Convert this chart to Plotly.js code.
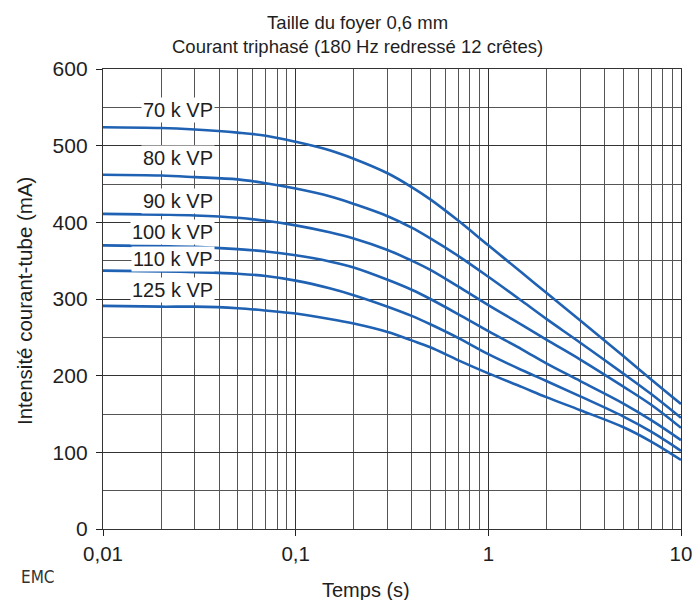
<!DOCTYPE html>
<html>
<head>
<meta charset="utf-8">
<script src="https://cdn.plot.ly/plotly-3.0.1.min.js"></script>
<style>html,body{margin:0;padding:0;background:#fff;}#chart{width:694px;height:600px;}</style>
</head>
<body>
<div id="chart"></div>
<script>
// Time (s)
var temps = [0.01, 0.02, 0.03, 0.05, 0.07, 0.1, 0.15, 0.2, 0.3, 0.4, 0.5, 0.7, 1, 1.5, 2, 3, 5, 7, 10];
// Tube current (mA) per tube voltage
var kvp70  = [524, 523, 521, 517, 513, 505, 494, 483, 464, 446, 430, 402, 370, 334, 308, 272, 226, 195, 163];
var kvp80  = [462, 461, 459, 456, 451, 444, 434, 424, 408, 393, 379, 356, 329, 297, 274, 243, 203, 176, 145];
var kvp90  = [411, 410, 409, 406, 402, 396, 387, 379, 364, 350, 338, 316, 292, 266, 247, 221, 186, 162, 132];
var kvp100 = [370, 369, 368, 365, 362, 357, 349, 341, 325, 312, 300, 280, 258, 234, 216, 193, 164, 142, 116];
var kvp110 = [337, 336, 335, 333, 330, 324, 314, 305, 290, 278, 267, 249, 228, 207, 193, 173, 147, 127, 102];
var kvp125 = [291, 290, 290, 288, 285, 281, 274, 268, 257, 246, 237, 220, 203, 185, 172, 155, 133, 114, 90];

var seriesNames = ["70 k VP", "80 k VP", "90 k VP", "100 k VP", "110 k VP", "125 k VP"];
var seriesValues = [kvp70, kvp80, kvp90, kvp100, kvp110, kvp125];
// Label anchor (time, mA) for each curve label
var labelX = 0.038;
var labelY = [547, 484, 428, 388, 352, 312];

var xTickVals = [0.01, 0.1, 1, 10];
var xTickText = ["0,01", "0,1", "1", "10"];
var yTickVals = [0, 100, 200, 300, 400, 500, 600];
var xMinorVals = [];
[0.01, 0.1, 1].forEach(function (d) {
  for (var k = 2; k <= 9; k++) xMinorVals.push(+(d * k).toPrecision(3));
});

var lineColor = "#1f61b2";
var font = "Liberation Sans, Arial, Helvetica, sans-serif";
var txt = "#1e1e1e";

// plot area in px: x 103..681, y 69..529
var L = 103, R = 681, T = 69, B = 529;
function px(xp) { return (xp - L) / (R - L); }
function py(yp) { return (B - yp) / (B - T); }

var traces = seriesValues.map(function (vals, i) {
  return {
    x: temps, y: vals, type: "scatter", mode: "lines", name: seriesNames[i],
    line: {color: lineColor, width: 2.6, shape: "spline", smoothing: 1},
    hoverinfo: "skip"
  };
});

var annotations = seriesNames.map(function (nm, i) {
  return {
    x: Math.log10(labelX), y: labelY[i], xref: "x", yref: "y",
    text: nm, showarrow: false, xanchor: "right", yanchor: "middle",
    bgcolor: "#ffffff", borderpad: 1,
    font: {family: font, size: 20, color: txt}
  };
});
annotations.push({
  xref: "paper", yref: "paper", x: px(357), y: py(34),
  text: "Taille du foyer 0,6 mm<br>Courant triphasé (180 Hz redressé 12 crêtes)",
  showarrow: false, xanchor: "center", yanchor: "middle", align: "center",
  font: {family: font, size: 18.5, color: txt}
});
annotations.push({
  xref: "paper", yref: "paper", x: px(366), y: py(590),
  text: "Temps (s)", showarrow: false, xanchor: "center", yanchor: "middle",
  font: {family: font, size: 20, color: txt}
});
annotations.push({
  xref: "paper", yref: "paper", x: px(24), y: py(301),
  text: "Intensité courant-tube (mA)", textangle: -90, showarrow: false,
  xanchor: "center", yanchor: "middle",
  font: {family: font, size: 20.5, color: txt}
});
annotations.push({
  xref: "paper", yref: "paper", x: px(38), y: py(577),
  text: "EMC", showarrow: false, xanchor: "center", yanchor: "middle",
  font: {family: "Liberation Sans Narrow, DejaVu Sans Condensed, sans-serif", size: 17, color: "#333"}
});

var layout = {
  width: 694, height: 600,
  margin: {l: L, r: 694 - R, t: T, b: 600 - B},
  paper_bgcolor: "#fff", plot_bgcolor: "#fff",
  showlegend: false,
  font: {family: font, size: 20, color: txt},
  xaxis: {
    type: "log", range: [-2, 1],
    tickvals: xTickVals, ticktext: xTickText,
    ticks: "outside", ticklen: 6, tickcolor: "#222", tickwidth: 1,
    showgrid: true, gridcolor: "#333", gridwidth: 1,
    minor: {tickvals: xMinorVals, showgrid: true, gridcolor: "#555", gridwidth: 1, ticks: ""},
    showline: true, linecolor: "#333", linewidth: 1.2, mirror: true,
    zeroline: false,
    tickfont: {family: font, size: 20.5, color: txt}
  },
  yaxis: {
    range: [0, 600], tickvals: yTickVals,
    ticks: "outside", ticklen: 6, tickcolor: "#222", tickwidth: 1,
    ticklabelstandoff: 4,
    showgrid: true, gridcolor: "#333", gridwidth: 1,
    minor: {dtick: 50, showgrid: true, gridcolor: "#555", gridwidth: 1, ticks: ""},
    showline: true, linecolor: "#333", linewidth: 1.2, mirror: true,
    zeroline: false,
    tickfont: {family: font, size: 21, color: txt}
  },
  annotations: annotations
};

Plotly.newPlot("chart", traces, layout, {staticPlot: true, displayModeBar: false});
</script>
</body>
</html>
